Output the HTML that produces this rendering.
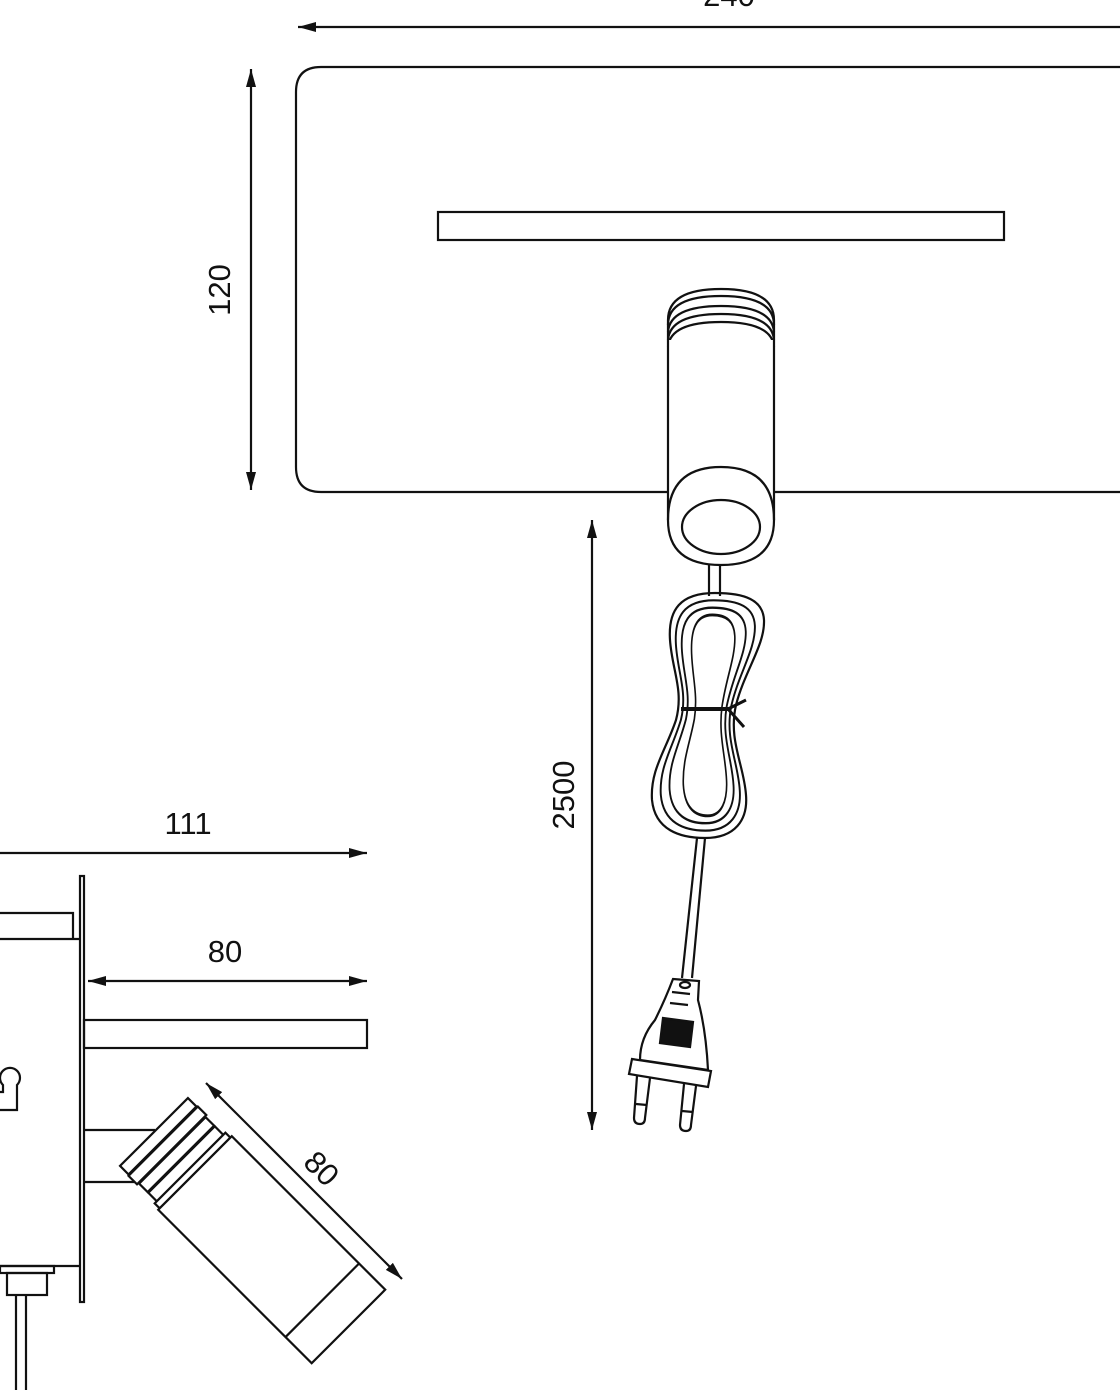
<!DOCTYPE html>
<html><head><style>html,body{margin:0;padding:0;background:#fff}svg{display:block}</style></head>
<body>
<svg width="1120" height="1390" viewBox="0 0 1120 1390" xmlns="http://www.w3.org/2000/svg">
<defs>
<marker id="a" viewBox="0 0 18 10" refX="18" refY="5" markerWidth="18" markerHeight="10" markerUnits="userSpaceOnUse" orient="auto-start-reverse"><path d="M0,0 L18,5 L0,10 Z" fill="#111"/></marker>
<path id="coil" d="M715,593 C680,593 668,610 670,640 C672,670 684,690 676,720 C666,750 650,770 652,800 C655,830 680,838 705,838 C735,838 748,820 746,795 C744,765 728,740 736,705 C745,670 765,645 764,620 C763,600 745,593 715,593 Z"/>
</defs>
<g fill="none" stroke="#111" stroke-width="2.2">
<!-- top view -->
<line x1="298" y1="27" x2="1120" y2="27" marker-start="url(#a)"/>
<path d="M1122,67 H321 Q296,67 296,92 V467 Q296,492 321,492 H668 M774,492 H1122"/>
<rect x="438" y="212" width="566" height="28"/>
<line x1="251" y1="69" x2="251" y2="490" marker-start="url(#a)" marker-end="url(#a)"/>
<!-- cylinder -->
<path d="M668,340 V320 Q668,289 721,289 Q774,289 774,320 V340"/>
<path d="M668,325 Q668,296 721,296 Q774,296 774,325"/>
<path d="M668,332 Q670,306 721,306 Q772,306 774,332"/>
<path d="M668,340 Q670,314 721,314 Q772,314 774,340"/>
<path d="M668,347 Q670,322 721,322 Q772,322 774,347"/>
<path d="M668,340 V520 Q668,565 721,565 Q774,565 774,520 V340" fill="#fff"/>
<path d="M668,520 Q668,467 721,467 Q774,467 774,520"/>
<ellipse cx="721" cy="527" rx="39" ry="27"/>
<line x1="709" y1="565" x2="709" y2="596"/><line x1="720" y1="565" x2="720" y2="596"/>
<!-- coil -->
<use href="#coil"/>
<use href="#coil" transform="translate(707,715) scale(0.84,0.94) translate(-707,-715)" vector-effect="non-scaling-stroke" stroke-width="2.3"/>
<use href="#coil" transform="translate(707,715) scale(0.68,0.88) translate(-707,-715)" stroke-width="2.7"/>
<use href="#coil" transform="translate(710,715) scale(0.46,0.82) translate(-710,-715)" stroke-width="3.5"/>
<line x1="681" y1="709" x2="730" y2="709" stroke-width="4"/>
<path d="M728,709 L746,700 M728,709 L744,727" stroke-width="3"/>
<!-- cord to plug -->
<line x1="697" y1="838" x2="682" y2="978"/><line x1="705" y1="838" x2="692" y2="978"/>
<!-- plug -->
<path d="M673,979 L699,981 L698,1000 Q706,1030 708,1070 L640,1060 Q640,1038 655,1020 Q665,1000 673,979 Z" fill="#fff"/>
<ellipse cx="685" cy="985" rx="5" ry="3"/>
<path d="M672,992 L690,994 M670,1003 L688,1005"/>
<polygon points="663,1018 693,1022 690,1047 660,1043" fill="#111"/>
<polygon points="632,1059 711,1071 708,1087 629,1074" fill="#fff"/>
<path d="M637,1076 L634,1118 Q634,1124 640,1124 Q645,1124 645,1118 L650,1078"/>
<path d="M684,1084 L680,1125 Q680,1131 686,1131 Q691,1131 691,1125 L696,1086"/>
<line x1="636" y1="1104" x2="647" y2="1105"/><line x1="682" y1="1111" x2="693" y2="1112"/>
<line x1="592" y1="520" x2="592" y2="1130" marker-start="url(#a)" marker-end="url(#a)"/>
<!-- side view -->
<line x1="0" y1="853" x2="367" y2="853" marker-end="url(#a)"/>
<rect x="80" y="876" width="4" height="426" fill="#fff"/>
<path d="M0,913 H73 V939 H80 M0,939 H73"/>
<line x1="88" y1="981" x2="367" y2="981" marker-start="url(#a)" marker-end="url(#a)"/>
<rect x="84" y="1020" width="283" height="28"/>
<path d="M84,1130 H155 M84,1182 H135"/>
<path d="M0,1110 H17 V1085 A10,10 0 1 0 3,1085 V1092 H0"/>
<path d="M0,1266 H80"/>
<rect x="0" y="1266" width="54" height="7"/>
<rect x="7" y="1273" width="40" height="22"/>
<path d="M16,1295 V1390 M26,1295 V1390"/>
<!-- tilted spot -->
<g transform="translate(195,1173) rotate(45)">
<rect x="-58" y="-48" width="12" height="96" fill="#fff"/>
<rect x="-45" y="-49" width="12" height="98" fill="#fff"/>
<rect x="-32" y="-47" width="12" height="94" fill="#fff"/>
<rect x="-19" y="-47" width="12" height="94" fill="#fff"/>
<path d="M-7,-50 H0 V50 H-7 Z" fill="#fff"/>
<rect x="0" y="-52" width="217" height="104" fill="#fff"/>
<line x1="180" y1="-52" x2="180" y2="52"/>
</g>
<line x1="206" y1="1083" x2="402" y2="1279" marker-start="url(#a)" marker-end="url(#a)"/>
</g>
<g font-family="Liberation Sans, DejaVu Sans, sans-serif" font-size="31" fill="#111" text-anchor="middle">
<text x="729" y="6">240</text>
<text x="0" y="0" transform="translate(230,290) rotate(-90)">120</text>
<text x="0" y="0" transform="translate(574,795) rotate(-90)">2500</text>
<text x="188" y="834">111</text>
<text x="225" y="962">80</text>
<text x="0" y="0" transform="translate(314,1176) rotate(45)">80</text>
</g>
</svg>
</body></html>
